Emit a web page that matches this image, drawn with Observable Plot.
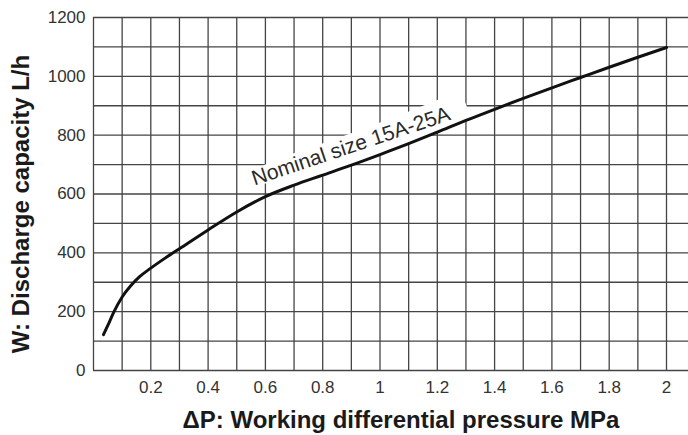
<!DOCTYPE html>
<html>
<head>
<meta charset="utf-8">
<script src="https://cdn.jsdelivr.net/npm/d3@7"></script>
<script src="https://cdn.jsdelivr.net/npm/@observablehq/plot@0.6"></script>
<style>
  html, body { margin: 0; padding: 0; background: #fff; }
  #chart svg { display: block; }
</style>
</head>
<body>
<div id="chart"></div>
<script>
// Data
const pressure = [0.035, 0.05, 0.07, 0.1, 0.13, 0.16, 0.2, 0.25, 0.3, 0.4, 0.5, 0.6, 0.7, 0.8, 0.9, 1.0, 1.1, 1.2, 1.3, 1.4, 1.5, 1.6, 1.7, 1.8, 1.9, 2.0];
const capacity = [122, 153, 197, 250, 288, 318, 348, 382, 414, 478, 539, 591, 630, 664, 698, 734, 771, 810, 850, 888, 925, 961, 996, 1031, 1065, 1098];
const xTicks = [0.2, 0.4, 0.6, 0.8, 1, 1.2, 1.4, 1.6, 1.8, 2];
const yTicks = [0, 200, 400, 600, 800, 1000, 1200];
const xGrid = [0, 0.1, 0.2, 0.3, 0.4, 0.5, 0.6, 0.7, 0.8, 0.9, 1.0, 1.1, 1.2, 1.3, 1.4, 1.5, 1.6, 1.7, 1.8, 1.9, 2.0];
const yGrid = [0, 100, 200, 300, 400, 500, 600, 700, 800, 900, 1000, 1100, 1200];
const xTitle = "ΔP: Working differential pressure MPa";
const yTitle = "W: Discharge capacity L/h";
const curveLabel = "Nominal size 15A-25A";
const labelX = 0.562;
const labelY = 629;
const maskFrom = 0.6, maskTo = 1.3;

const rows = pressure.map((p, i) => ({p, w: capacity[i]}));
const maskRows = rows.filter(d => d.p >= maskFrom && d.p <= maskTo);

const W = 688, H = 435, mL = 93, mR = 0;
const unitPx = 286.5; // pixels per 1 MPa
const xMax = (W - mL - mR) / unitPx;

const font = "'Liberation Sans', Arial, Helvetica, sans-serif";

const chart = Plot.plot({
  width: W,
  height: H,
  marginLeft: mL,
  marginRight: mR,
  marginTop: 17,
  marginBottom: 65,
  style: {fontFamily: font, background: "#fff"},
  x: {domain: [0, xMax], axis: null},
  y: {domain: [0, 1200], axis: null},
  marks: [
    Plot.ruleX(xGrid, {stroke: "#454545", strokeWidth: 1.3}),
    Plot.ruleY(yGrid, {stroke: "#454545", strokeWidth: 1.3}),
    Plot.line(maskRows, {x: "p", y: "w", stroke: "#fff", strokeWidth: 30, dy: -16, curve: "monotone-x", strokeLinecap: "butt"}),
    Plot.line(rows, {x: "p", y: "w", stroke: "#111", strokeWidth: 3, curve: "monotone-x"}),
    Plot.text([curveLabel], {x: () => labelX, y: () => labelY, text: d => d, rotate: -18.5, textAnchor: "start", lineAnchor: "bottom", fontSize: 21, fill: "#2a2a2a", stroke: "#fff", strokeWidth: 3}),
    Plot.axisX(xTicks, {tickSize: 0, tickPadding: 10, fontSize: 17, color: "#333", label: null, tickFormat: d => String(d)}),
    Plot.axisY(yTicks, {tickSize: 0, tickPadding: 8, fontSize: 17, color: "#333", label: null, tickFormat: d => String(d)}),
    Plot.text([xTitle], {frameAnchor: "bottom", dy: 50, dx: 10, text: d => d, fontSize: 24, fontWeight: "bold", fill: "#1a1a1a", textAnchor: "middle", lineAnchor: "middle"}),
    Plot.text([yTitle], {frameAnchor: "left", dx: -72, dy: 10, text: d => d, rotate: -90, fontSize: 24, fontWeight: "bold", fill: "#1a1a1a", textAnchor: "middle", lineAnchor: "middle"})
  ]
});
document.getElementById("chart").appendChild(chart);
</script>
</body>
</html>
